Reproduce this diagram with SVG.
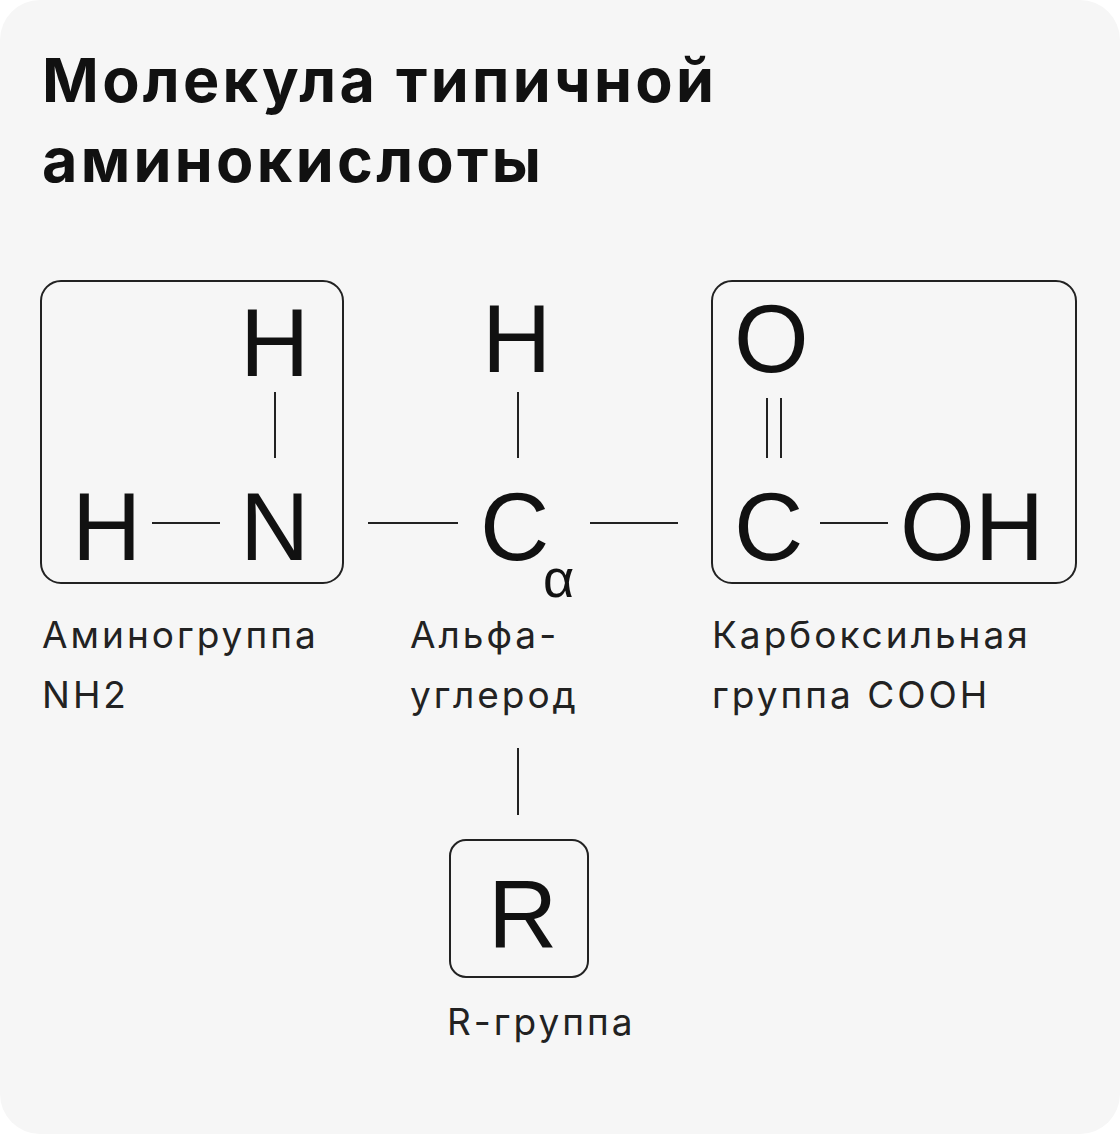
<svg xmlns="http://www.w3.org/2000/svg" width="1120" height="1134" viewBox="0 0 1120 1134">
<style>
.t{font-family:"Inter","Liberation Sans",sans-serif;font-weight:700;font-size:61px;letter-spacing:3.3px;fill:#111}
.a{font-family:"Liberation Sans",Arial,sans-serif;font-size:96px;fill:#111}
.l{font-family:"Inter","Liberation Sans",sans-serif;font-size:37px;letter-spacing:3px;fill:#222}
.b{fill:none;stroke:#222;stroke-width:2}
line{stroke:#222;stroke-width:2}
</style>
<rect width="1120" height="1134" fill="#fff"/>
<rect width="1120" height="1134" rx="40" fill="#f6f6f6"/>
<text class="t" x="42" y="102">Молекула типичной</text>
<text class="t" x="42" y="182">аминокислоты</text>
<g id="amino">
<rect class="b" x="41" y="281" width="302" height="302" rx="20"/>
<text class="a" x="240" y="376">H</text>
<text class="a" x="72" y="560">H</text>
<text class="a" x="240" y="560">N</text>
<text class="l" x="42" y="648">Аминогруппа</text>
<text class="l" x="42" y="708">NH2</text>
</g>
<g id="alpha">
<text class="a" x="482" y="372">H</text>
<text class="a" x="480" y="560">C</text>
<text class="a" x="543" y="597" style="font-size:54px">α</text>
<text class="l" x="410" y="648">Альфа-</text>
<text class="l" x="410" y="708">углерод</text>
</g>
<g id="carboxyl">
<rect class="b" x="712" y="281" width="364" height="302" rx="20"/>
<text class="a" x="734" y="372">O</text>
<text class="a" x="734" y="560">C</text>
<text class="a" x="900" y="560">OH</text>
<text class="l" x="712" y="648">Карбоксильная</text>
<text class="l" x="712" y="708">группа COOH</text>
</g>
<g id="rgroup">
<rect class="b" x="450" y="840" width="138" height="137" rx="16"/>
<text class="a" x="488" y="948">R</text>
<text class="l" x="447" y="1035">R-группа</text>
</g>
<g id="connectors">
<line x1="152" y1="523" x2="220" y2="523"/>
<line x1="275" y1="392" x2="275" y2="458"/>
<line x1="368" y1="523" x2="458" y2="523"/>
<line x1="518" y1="392" x2="518" y2="458"/>
<line x1="590" y1="523" x2="678" y2="523"/>
<line x1="767" y1="398" x2="767" y2="458"/>
<line x1="781" y1="398" x2="781" y2="458"/>
<line x1="820" y1="523" x2="888" y2="523"/>
<line x1="518" y1="748" x2="518" y2="815"/>
</g>
</svg>
